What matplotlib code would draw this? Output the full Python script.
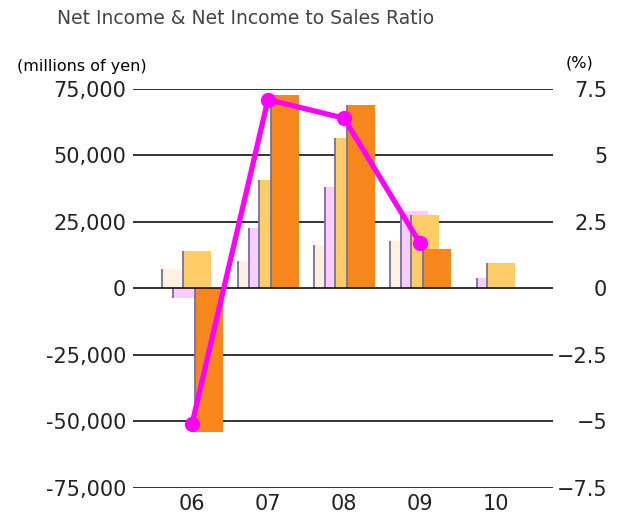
import matplotlib
matplotlib.use("Agg")
import matplotlib.pyplot as plt
import numpy as np

# fiscal years and quarterly cumulative net income (millions of yen)
years = ["06", "07", "08", "09", "10"]
q1 = [7500, 10500, 16500, 18000, 300]
q2 = [-3400, 22900, 38000, 29300, 4100]
q3 = [13900, 40600, 56400, 27800, 9400]
full_year = [-54000, 72900, 69000, 15000, np.nan]

# net income to sales ratio (%)
ratio = [-5.1, 7.1, 6.4, 1.7, np.nan]

left_ticks = [75000, 50000, 25000, 0, -25000, -50000, -75000]
left_labels = ["75,000", "50,000", "25,000", "0", "-25,000", "-50,000", "-75,000"]
right_ticks = [7.5, 5, 2.5, 0, -2.5, -5, -7.5]
right_labels = ["7.5", "5", "2.5", "0", "\u22122.5", "\u22125", "\u22127.5"]

plt.rcParams['font.family'] = ['DejaVu Sans']

fig = plt.figure(figsize=(6.18, 5.16), dpi=100)
ax = fig.add_axes([0.2152, 0.0543, 0.6796, 0.7733])

x = np.arange(len(years))
unit = 76.0  # pixels per category
lefts = [-30 / unit, -19.5 / unit, -9 / unit, 3 / unit]
width = 28 / unit
colors = ["#FFF1DD", "#FFCCFF", "#FFCC66", "#F7871C"]
edge = "#7272A6"

for i, (vals, col) in enumerate(zip([q1, q2, q3, full_year], colors)):
    xs = x + lefts[i]
    ax.bar(xs, vals, width=width, align="edge", color=col, zorder=3 + i)
    for xx, v in zip(xs, vals):
        if not np.isnan(v):
            ax.vlines(xx + 0.006, 0, v, color=edge, lw=1.3, zorder=3 + i)

for t in left_ticks:
    ax.axhline(t, color="#111111", lw=1.2, zorder=1 if t != 0 else 8)

ax.set_xlim(-0.776, 4.75)
ax.set_ylim(-75000, 75000)
ax.set_xticks(x)
ax.set_xticklabels(years)
ax.set_yticks(left_ticks)
ax.set_yticklabels(left_labels)
ax.tick_params(axis="both", length=0, labelsize=15, labelcolor="#222222")
ax.tick_params(axis="y", pad=5)
ax.tick_params(axis="x", pad=4)
for s in ax.spines.values():
    s.set_visible(False)

ax2 = ax.twinx()
ax2.set_ylim(-7.5, 7.5)
ax2.set_yticks(right_ticks)
ax2.set_yticklabels(right_labels)
ax2.tick_params(axis="y", length=0, labelsize=15, pad=39, labelcolor="#222222")
for lab in ax2.get_yticklabels():
    lab.set_horizontalalignment("right")
for s in ax2.spines.values():
    s.set_visible(False)
ax2.plot(x, ratio, color="#FF00FF", lw=3.8, marker="o", markersize=10,
         zorder=10, clip_on=False)

fig.text(57 / 618, 1 - 18 / 516, "Net Income & Net Income to Sales Ratio",
         fontsize=13.5, color="#444444", va="center", ha="left")
fig.text(17 / 618, 1 - 66 / 516, "(millions of yen)", fontsize=11.5,
         color="black", va="center", ha="left")
fig.text(593 / 618, 1 - 63 / 516, "(%)", fontsize=11.5, color="black",
         va="center", ha="right")

fig.savefig("out.png", dpi=100)
